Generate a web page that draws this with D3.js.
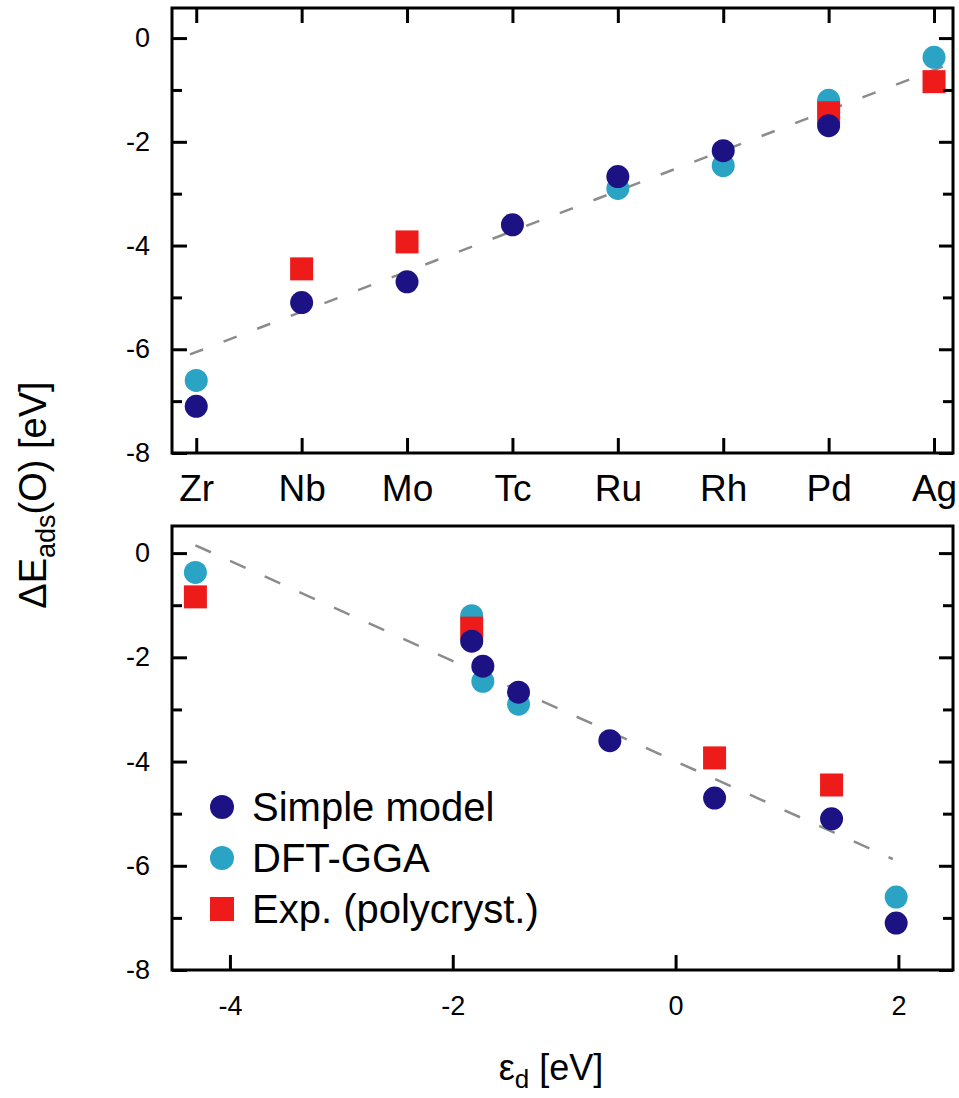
<!DOCTYPE html>
<html>
<head>
<meta charset="utf-8">
<script src="https://cdn.jsdelivr.net/npm/d3@7"></script>
<style>
	body { margin:0; background:#fff; }
	svg { display:block; font-family:"Liberation Sans", Arial, sans-serif; }
</style>
</head>
<body>
<svg id="svg"></svg>
<script>
"use strict";

// metals along the top panel, and their d-band centre (bottom panel x)
var metals = ["Zr","Nb","Mo","Tc","Ru","Rh","Pd","Ag"];
var epsD = [1.98, 1.40, 0.35, -0.59, -1.41, -1.73, -1.83, -4.31];

// adsorption energies of O [eV], null = no point
var simpleModel = [-7.10, -5.10, -4.70, -3.60, -2.67, -2.17, -1.69, null];
var dftGGA      = [-6.60, null, null, null, -2.90, -2.46, -1.20, -0.37];
var expPoly     = [null, -4.45, -3.93, null, null, null, -1.44, -0.84];

// dashed guide lines, [x, y] end points
var topFit    = [[-0.06, -6.10], [7.15, -0.50]];
var bottomFit = [[-4.31, 0.15], [1.95, -5.87]];

var yMajor = [0, -2, -4, -6, -8];
var yMinor = [-1, -3, -5, -7];
var xTicksBottom = [-4, -2, 0, 2];

var seriesNames = ["Simple model", "DFT-GGA", "Exp. (polycryst.)"];

var
	width  = 959,
	height = 1098,
	cNavy  = "#1c1283",
	cCyan  = "#2aa3c4",
	cRed   = "#ee1b1b",

	svg = d3.select("#svg")
			.attr("width", width)
			.attr("height", height),

	boxTop = {x0:172, x1:953, y0:8,   y1:453},
	boxBot = {x0:172, x1:953, y0:526, y1:970},

	xTop = d3.scaleLinear().domain([-0.23, 7.18]).range([boxTop.x0, boxTop.x1]),
	yTop = d3.scaleLinear().domain([-8, 0.58]).range([boxTop.y1, boxTop.y0]),

	xBot = d3.scaleLinear().domain([-4.52, 2.49]).range([boxBot.x0, boxBot.x1]),
	yBot = d3.scaleLinear().domain([-8, 0.52]).range([boxBot.y1, boxBot.y0]),

	// plain hyphen for negative numbers, like the original
	fmt = function(d){ return String(d); };

// point list for one series
var points = function(xs, vals){
	var out = [];
	vals.forEach(function(v, i){
		if(v !== null) out.push({x:xs[i], y:v});
	});
	return out;
};

var styleAxis = function(g, fontSize){
	g.select(".domain").remove();
	g.selectAll(".tick line").attr("stroke", "#000").attr("stroke-width", 3);
	g.selectAll(".tick text")
		.attr("fill", "#000")
		.style("font-size", fontSize + "px")
		.style("font-family", "'Liberation Sans', Arial, sans-serif");
};

var drawPanel = function(box, x, y, xs, fit, dash){
	var g = svg.append("g");

	// dashed guide
	g.append("line")
		.attr("x1", x(fit[0][0])).attr("y1", y(fit[0][1]))
		.attr("x2", x(fit[1][0])).attr("y2", y(fit[1][1]))
		.attr("stroke", "#8c8c8c")
		.attr("stroke-width", 2.5)
		.attr("stroke-dasharray", dash);

	// markers: dft under exp under simple
	g.selectAll("circle.dft")
		.data(points(xs, dftGGA))
		.enter()
		.append("circle")
		.attr("class", "dft")
		.attr("cx", function(d){ return x(d.x); })
		.attr("cy", function(d){ return y(d.y); })
		.attr("r", 11.5)
		.attr("fill", cCyan);

	g.selectAll("rect.exp")
		.data(points(xs, expPoly))
		.enter()
		.append("rect")
		.attr("class", "exp")
		.attr("x", function(d){ return x(d.x) - 11.5; })
		.attr("y", function(d){ return y(d.y) - 11.5; })
		.attr("width", 23)
		.attr("height", 23)
		.attr("fill", cRed);

	g.selectAll("circle.simple")
		.data(points(xs, simpleModel))
		.enter()
		.append("circle")
		.attr("class", "simple")
		.attr("cx", function(d){ return x(d.x); })
		.attr("cy", function(d){ return y(d.y); })
		.attr("r", 11.5)
		.attr("fill", cNavy);

	// left axis
	var left = svg.append("g").attr("transform", "translate(" + box.x0 + ",0)");
	left.call(d3.axisLeft(y).tickValues(yMajor).tickSize(-15).tickPadding(22).tickFormat(fmt));
	styleAxis(left, 27);
	var leftMin = svg.append("g").attr("transform", "translate(" + box.x0 + ",0)");
	leftMin.call(d3.axisLeft(y).tickValues(yMinor).tickSize(-10).tickFormat(""));
	styleAxis(leftMin, 27);

	// right axis
	var right = svg.append("g").attr("transform", "translate(" + box.x1 + ",0)");
	right.call(d3.axisRight(y).tickValues(yMajor).tickSize(-14).tickFormat(""));
	styleAxis(right, 27);
	var rightMin = svg.append("g").attr("transform", "translate(" + box.x1 + ",0)");
	rightMin.call(d3.axisRight(y).tickValues(yMinor).tickSize(-10).tickFormat(""));
	styleAxis(rightMin, 27);

	// frame
	svg.append("rect")
		.attr("x", box.x0).attr("y", box.y0)
		.attr("width", box.x1 - box.x0).attr("height", box.y1 - box.y0)
		.attr("fill", "none")
		.attr("stroke", "#000")
		.attr("stroke-width", 3);
};

// ---- top panel: by metal
drawPanel(boxTop, xTop, yTop, d3.range(metals.length), topFit, "14,22");

var xAxTop = svg.append("g").attr("transform", "translate(0," + boxTop.y1 + ")");
xAxTop.call(d3.axisBottom(xTop)
	.tickValues(d3.range(metals.length))
	.tickSize(-15)
	.tickPadding(22)
	.tickFormat(function(i){ return metals[i]; }));
styleAxis(xAxTop, 37);

var xAxTop2 = svg.append("g").attr("transform", "translate(0," + boxTop.y0 + ")");
xAxTop2.call(d3.axisTop(xTop).tickValues(d3.range(metals.length)).tickSize(-15).tickFormat(""));
styleAxis(xAxTop2, 37);

// ---- bottom panel: by d-band centre
drawPanel(boxBot, xBot, yBot, epsD, bottomFit, "17,21");

var xAxBot = svg.append("g").attr("transform", "translate(0," + boxBot.y1 + ")");
xAxBot.call(d3.axisBottom(xBot)
	.tickValues(xTicksBottom)
	.tickSize(-15)
	.tickPadding(26)
	.tickFormat(fmt));
styleAxis(xAxBot, 27);

// legend
var legend = svg.append("g").attr("transform", "translate(222,807)");
var rows = legend.selectAll("g")
	.data(seriesNames)
	.enter()
	.append("g")
	.attr("transform", function(d, i){ return "translate(0," + (i * 51) + ")"; });

rows.each(function(d, i){
	var r = d3.select(this);
	if(i < 2){
		r.append("circle").attr("r", 12).attr("fill", i === 0 ? cNavy : cCyan);
	}else{
		r.append("rect").attr("x", -12).attr("y", -12).attr("width", 24).attr("height", 24).attr("fill", cRed);
	}
	r.append("text")
		.attr("x", 30)
		.attr("y", 14)
		.style("font-size", "40px")
		.attr("fill", "#000")
		.text(d);
});

// axis titles
var yl = svg.append("text")
	.attr("transform", "translate(46,495) rotate(-90)")
	.attr("text-anchor", "middle")
	.style("font-size", "38px")
	.attr("fill", "#000");
yl.append("tspan").text("\u0394E");
yl.append("tspan").attr("dy", 9).style("font-size", "27px").text("ads");
yl.append("tspan").attr("dy", -9).text("(O) [eV]");

var xl = svg.append("text")
	.attr("x", 551)
	.attr("y", 1080)
	.attr("text-anchor", "middle")
	.style("font-size", "36px")
	.attr("fill", "#000");
xl.append("tspan").text("\u03b5");
xl.append("tspan").attr("dy", 8).style("font-size", "26px").text("d");
xl.append("tspan").attr("dy", -8).text(" [eV]");
</script>
</body>
</html>
